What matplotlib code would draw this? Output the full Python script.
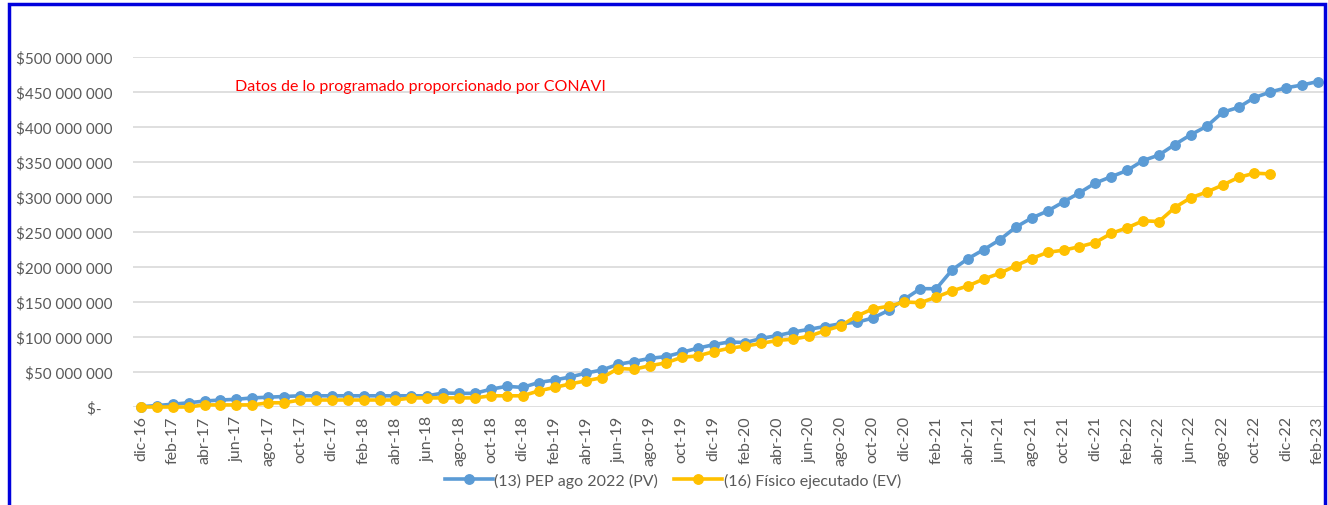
import matplotlib.pyplot as plt
from matplotlib.patches import Rectangle
from matplotlib.ticker import FuncFormatter

plt.rcParams["font.family"] = ["Lato", "DejaVu Sans"]

# monthly labels dic-16 .. feb-23
meses = ["ene", "feb", "mar", "abr", "may", "jun", "jul", "ago", "sep", "oct", "nov", "dic"]
months = ["dic-16"] + [f"{m}-{y}" for y in range(17, 23) for m in meses] + ["ene-23", "feb-23"]

# (13) PEP ago 2022 (PV), millions
pv = [0.5, 2, 4, 6, 8.5, 10, 11, 13, 14, 15, 16, 16, 16, 16, 16, 16, 16, 16, 16, 20,
      19.5, 19.5, 25.5, 29.5, 28, 35, 38.5, 43, 48.5, 53, 61, 65, 69.5, 72, 78, 84,
      89, 93, 92, 98, 102, 107, 111, 115, 119, 121, 127, 138, 154, 169, 169, 196,
      212, 225, 239, 257, 270, 280, 293, 306, 320, 329, 338, 352, 360, 375, 389,
      401, 421, 428, 442, 450, 456, 460, 465]

# (16) Físico ejecutado (EV), millions
ev = [0, 0, 0, 0, 3, 3, 3, 3, 6, 6, 10, 10, 10, 10, 10, 10, 10, 13, 13, 13, 13, 13,
      16, 16, 16, 23, 28, 33, 37.5, 42, 55, 54, 59, 63, 71, 73, 79, 84, 87, 91, 95,
      97, 101, 109, 116, 130, 140, 144, 150, 149, 157, 166, 173, 183, 191, 202, 212,
      221, 224, 229, 235, 248, 256, 266, 265, 285, 299, 307, 317, 328, 334, 333]

W, H = 1328, 506
fig = plt.figure(figsize=(W / 100, H / 100), dpi=100)
ax = fig.add_axes([133 / W, 1 - 408 / H, (1326 - 133) / W, (408 - 58) / H])

x_pv = range(len(pv))
x_ev = range(len(ev))
ax.plot(x_pv, [v * 1e6 for v in pv], color="#5B9BD5", lw=2.6, marker="o", ms=6.8,
        label="(13) PEP ago 2022 (PV)", clip_on=False, zorder=3)
ax.plot(x_ev, [v * 1e6 for v in ev], color="#FFC000", lw=2.6, marker="o", ms=6.8,
        label="(16) Físico ejecutado (EV)", clip_on=False, zorder=4)

ax.set_xlim(-0.5, len(months) - 0.5)
ax.set_ylim(0, 500e6)
ax.set_yticks([i * 50e6 for i in range(11)])


def money(v, pos):
    if v == 0:
        return "$-   "
    return "$" + f"{v:,.0f}".replace(",", " ")


ax.yaxis.set_major_formatter(FuncFormatter(money))
ax.set_xticks(range(0, len(months), 2))
ax.set_xticklabels(months[::2], rotation=90)
ax.tick_params(axis="both", length=0, colors="#595959")
ax.tick_params(axis="y", pad=14.5, labelsize=11)
ax.tick_params(axis="x", pad=6, labelsize=11.5)
ax.grid(axis="y", color="#D9D9D9", lw=1.2)
ax.set_axisbelow(True)
for s in ax.spines.values():
    s.set_visible(False)

fig.text(235 / W, 1 - 87 / H, "Datos de lo programado proporcionado por CONAVI",
         color="#FF0000", fontsize=11.5, va="center")

fig.legend(loc="center", bbox_to_anchor=(673 / W, 1 - 481 / H), ncol=2, frameon=False,
           fontsize=11.5, labelcolor="#595959", handlelength=3.0, columnspacing=1.0,
           handletextpad=0.1)

fig.patches.append(Rectangle((9 / W, -0.05), (1325 - 9) / W, 1.05 - 5 / H,
                             transform=fig.transFigure, fill=False,
                             edgecolor="#0000DD", lw=2.5))

fig.savefig("out.png", dpi=100)
